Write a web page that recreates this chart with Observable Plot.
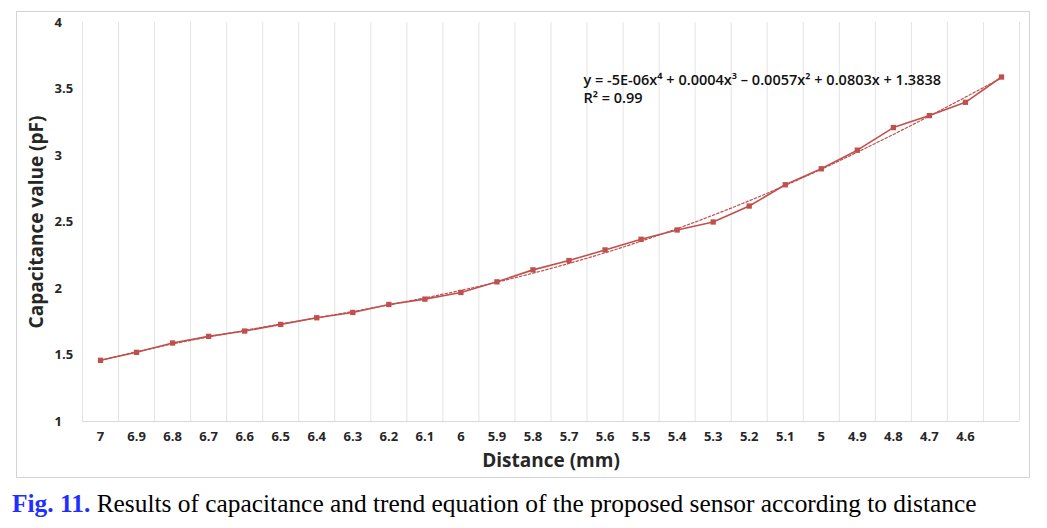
<!DOCTYPE html>
<html>
<head>
<meta charset="utf-8">
<script src="https://cdn.jsdelivr.net/npm/d3@7"></script>
<script src="https://cdn.jsdelivr.net/npm/@observablehq/plot@0.6"></script>
<style>
  html, body { margin: 0; padding: 0; background: #fff; }
  body { position: relative; width: 1047px; height: 528px; overflow: hidden; }
  #frame { position: absolute; left: 16px; top: 11px; width: 1014px; height: 467px; border: 1px solid #d4d4d4; box-sizing: border-box; }
  #chart { position: absolute; left: 0; top: 0; width: 1047px; height: 480px; }
  #chart svg { max-width: none; }
  #caption { position: absolute; left: 12px; top: 491px; font-family: "Liberation Serif", "Times New Roman", serif; font-size: 25.4px; line-height: 1; color: #000; white-space: nowrap; }
  #caption b { color: #1f2fff; }
</style>
</head>
<body>
<div id="frame"></div>
<div id="chart"></div>
<div id="caption"><b>Fig. 11.</b> Results of capacitance and trend equation of the proposed sensor according to distance</div>
<script>
// ---- data ----
const distanceLabels = ["7","6.9","6.8","6.7","6.6","6.5","6.4","6.3","6.2","6.1","6","5.9","5.8","5.7","5.6","5.5","5.4","5.3","5.2","5.1","5","4.9","4.8","4.7","4.6",""];
const capacitance = [1.46,1.52,1.59,1.64,1.68,1.73,1.78,1.82,1.88,1.92,1.97,2.05,2.14,2.21,2.29,2.37,2.44,2.50,2.62,2.78,2.90,3.04,3.21,3.30,3.40,3.59];
const yTicks = [1,1.5,2,2.5,3,3.5,4];
const equationText = "y = -5E-06x\u2074 + 0.0004x\u00b3 \u2013 0.0057x\u00b2 + 0.0803x + 1.3838\nR\u00b2 = 0.99";
const xTitle = "Distance (mm)";
const yTitle = "Capacitance value (pF)";

const rows = capacitance.map((c, i) => ({i: i + 1, label: distanceLabels[i], c}));

// ---- 4th-order least-squares trendline (as Excel computes it, x = category index) ----
function polyfit(xs, ys, deg) {
  const n = deg + 1;
  const A = Array.from({length: n}, () => new Array(n + 1).fill(0));
  for (let k = 0; k < xs.length; k++) {
    for (let r = 0; r < n; r++) {
      for (let c = 0; c < n; c++) A[r][c] += Math.pow(xs[k], r + c);
      A[r][n] += ys[k] * Math.pow(xs[k], r);
    }
  }
  for (let p = 0; p < n; p++) {
    let m = p;
    for (let r = p + 1; r < n; r++) if (Math.abs(A[r][p]) > Math.abs(A[m][p])) m = r;
    [A[p], A[m]] = [A[m], A[p]];
    for (let r = 0; r < n; r++) {
      if (r === p) continue;
      const f = A[r][p] / A[p][p];
      for (let c = p; c <= n; c++) A[r][c] -= f * A[p][c];
    }
  }
  return A.map((row, r) => row[n] / row[r]);
}
const coef = polyfit(rows.map(d => d.i), rows.map(d => d.c), 4);
const trend = d3.range(1, rows.length + 0.001, 0.25).map(x => ({x, y: coef.reduce((s, a, k) => s + a * Math.pow(x, k), 0)}));

const boundaries = d3.range(0.5, rows.length + 1, 1);
const red = "#c0504d";
const font = "'Open Sans', 'Noto Sans', sans-serif";

const plot = Plot.plot({
  width: 1047,
  height: 480,
  marginLeft: 82,
  marginRight: 28,
  marginTop: 22,
  marginBottom: 59,
  style: {fontFamily: font, background: "transparent", overflow: "visible"},
  x: {type: "linear", domain: [0.5, rows.length + 0.5], axis: null},
  y: {domain: [1, 4], axis: null},
  marks: [
    Plot.ruleX(boundaries, {x: d => d, stroke: "#e3e3e3", strokeWidth: 1}),
    Plot.ruleY([1], {stroke: "#d9d9d9", strokeWidth: 1}),
    Plot.axisX({ticks: rows.slice(0, 25).map(d => d.i), tickFormat: i => distanceLabels[i - 1], tickSize: 0, tickPadding: 10, fontSize: 13, fontWeight: "bold", fill: "#262626", label: null}),
    Plot.text(yTicks, {y: d => d, text: d => String(d), frameAnchor: "left", dx: -28, textAnchor: "start", fontSize: 13, fontWeight: "bold", fill: "#262626"}),
    Plot.text([xTitle], {frameAnchor: "bottom", dy: 39, lineAnchor: "middle", textAnchor: "middle", text: d => d, fontSize: 19, fontWeight: "bold", fill: "#262626"}),
    Plot.text([yTitle], {frameAnchor: "left", dx: -46, rotate: -90, textAnchor: "middle", lineAnchor: "middle", text: d => d, fontSize: 19, fontWeight: "bold", fill: "#262626"}),
    Plot.line(trend, {x: "x", y: "y", stroke: red, strokeWidth: 1.2, strokeDasharray: "2.5,2"}),
    Plot.line(rows, {x: "i", y: "c", stroke: red, strokeWidth: 1.6}),
    Plot.dot(rows, {x: "i", y: "c", symbol: "square", r: 3, fill: red, stroke: "none"}),
    Plot.text([equationText], {x: 14.4, y: 3.62, text: d => d, textAnchor: "start", lineAnchor: "top", lineHeight: 1.2, fontSize: 14.5, fill: "#111", fontWeight: 600})
  ]
});
document.getElementById("chart").appendChild(plot);
</script>
</body>
</html>
